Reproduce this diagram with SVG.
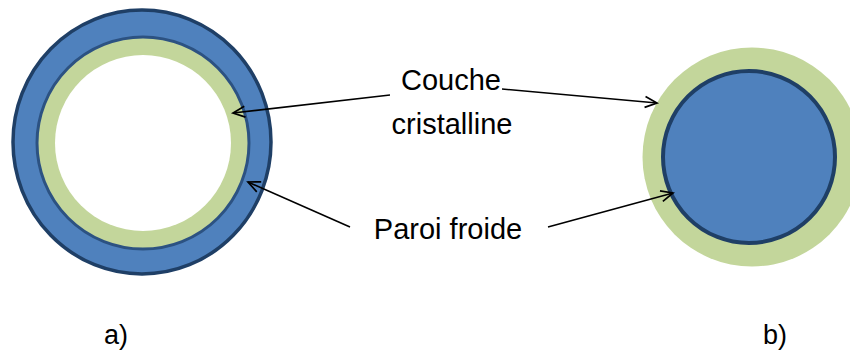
<svg xmlns="http://www.w3.org/2000/svg" width="850" height="354" viewBox="0 0 850 354">
<style>
.lbl{font-family:"Liberation Sans",Arial,sans-serif;font-size:29px;fill:#000;text-anchor:middle}
.tag{font-family:"Liberation Sans",Arial,sans-serif;font-size:27px;fill:#000;text-anchor:middle}
.con{fill:none;stroke:#000;stroke-width:1.6;marker-end:url(#ah)}
</style>
<defs>
<marker id="ah" markerWidth="16" markerHeight="14" refX="13" refY="7" orient="auto" markerUnits="userSpaceOnUse">
<path d="M1,1.5 L13,7 L1,12.5" fill="none" stroke="#000" stroke-width="1.7"/>
</marker>
</defs>
<rect width="850" height="354" fill="#fff"/>
<g id="tube-a">
<ellipse cx="142" cy="142" rx="129" ry="132" fill="#4F81BD" stroke="#1F3F66" stroke-width="3.5"/>
<circle cx="143" cy="143" r="106" fill="#C3D69B" stroke="#2C5282" stroke-width="3"/>
<circle cx="143" cy="143" r="88" fill="#fff"/>
</g>
<g id="tube-b">
<circle cx="752" cy="157" r="109.5" fill="#C3D69B"/>
<circle cx="749" cy="157" r="86" fill="#4F81BD" stroke="#1F3F66" stroke-width="4"/>
</g>
<g id="labels">
<text class="lbl" x="451" y="90">Couche</text>
<text class="lbl" x="452" y="134">cristalline</text>
<text class="lbl" x="448" y="239">Paroi froide</text>
<text class="tag" x="116" y="344">a)</text>
<text class="tag" x="775" y="344">b)</text>
</g>
<g id="connectors">
<line class="con" x1="390" y1="95" x2="233" y2="113"/>
<line class="con" x1="502" y1="89" x2="657" y2="103"/>
<line class="con" x1="350" y1="227" x2="248" y2="182"/>
<line class="con" x1="548" y1="227" x2="673" y2="193"/>
</g>
</svg>
